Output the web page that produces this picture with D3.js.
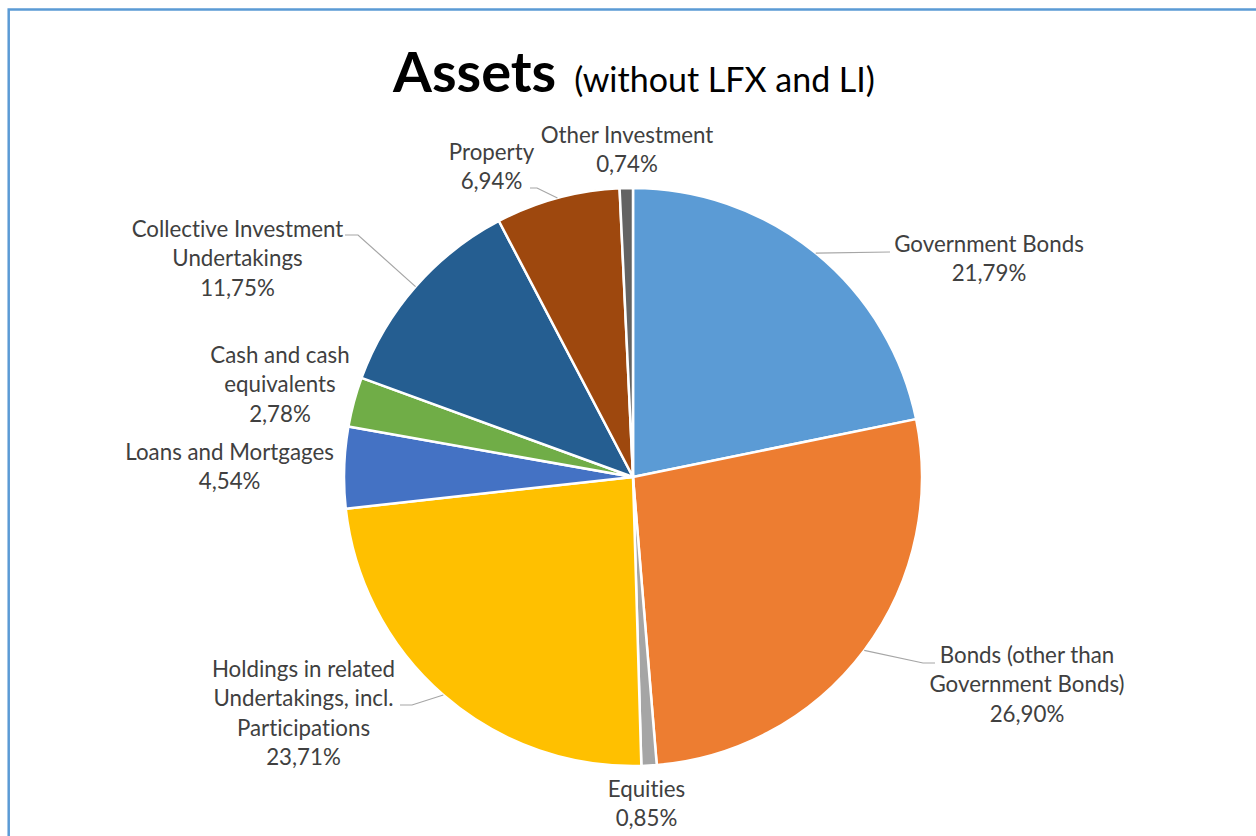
<!DOCTYPE html>
<html><head><meta charset="utf-8">
<script src="https://cdn.jsdelivr.net/npm/d3@7"></script>
<style>html,body{margin:0;padding:0;background:#fff;}svg{display:block;}text{font-variant-ligatures:none;}</style>
</head><body>
<svg id="chart" width="1256" height="836"></svg>
<script>
// ---- data ----
const categories = ["Government Bonds","Bonds (other than Government Bonds)","Equities","Holdings in related Undertakings, incl. Participations","Loans and Mortgages","Cash and cash equivalents","Collective Investment Undertakings","Property","Other Investment"];
const values = [21.79, 26.90, 0.85, 23.71, 4.54, 2.78, 11.75, 6.94, 0.74];
const valueLabels = ["21,79%","26,90%","0,85%","23,71%","4,54%","2,78%","11,75%","6,94%","0,74%"];
const labelLines = [
  ["Government Bonds"],
  ["Bonds (other than","Government Bonds)"],
  ["Equities"],
  ["Holdings in related","Undertakings, incl.","Participations"],
  ["Loans and Mortgages"],
  ["Cash and cash","equivalents"],
  ["Collective Investment","Undertakings"],
  ["Property"],
  ["Other Investment"]
];
const colors = ["#5B9BD5","#ED7D31","#A5A5A5","#FFC000","#4472C4","#70AD47","#255E91","#9E480E","#636363"];

// ---- layout ----
const cx = 633, cy = 477, R = 289;
const lineH = 29.3;
const labelPos = [ // [centerX, first baseline]
  [989, 252],[1027, 663],[646.5, 797],[303.5, 677],[229.6, 460],[280, 363],[237.5, 237],[491.5, 160],[627, 143]
];
const leaders = [ // [elbowX, elbowY, endX, endY] or null
  [890,252,890,252],[923,663,935,663],null,[412,705,400,705],null,null,[358,235,345,235],[537,188,530,188],null
];

const svg = d3.select("#chart");
svg.append("rect").attr("x",8.7).attr("y",9.5).attr("width",1400).attr("height",1000)
  .attr("fill","none").attr("stroke","#5B9BD5").attr("stroke-width",2.5);

const title = svg.append("text").attr("x",634).attr("y",92).attr("text-anchor","middle")
  .attr("font-family","Lato, 'Open Sans', sans-serif").attr("fill","#000");
title.append("tspan").attr("font-size",56).attr("font-weight","bold").text("Assets");
title.append("tspan").attr("font-size",34).attr("dx",18).text("(without LFX and LI)");

const pie = d3.pie().sort(null).value(d=>d);
const arcs = pie(values);
const arc = d3.arc().innerRadius(0).outerRadius(R);
const g = svg.append("g").attr("transform",`translate(${cx},${cy})`);
g.selectAll("path").data(arcs).join("path")
  .attr("d",arc).attr("fill",(d,i)=>colors[i]).attr("stroke","#fff").attr("stroke-width",2.5).attr("stroke-linejoin","round");

// leader lines
arcs.forEach((a,i)=>{
  const L = leaders[i]; if(!L) return;
  const m = (a.startAngle+a.endAngle)/2;
  const sx = cx + R*Math.sin(m), sy = cy - R*Math.cos(m);
  svg.append("polyline").attr("points",`${sx},${sy} ${L[0]},${L[1]} ${L[2]},${L[3]}`)
    .attr("fill","none").attr("stroke","#A6A6A6").attr("stroke-width",1.2);
});

// labels
arcs.forEach((a,i)=>{
  const lines = labelLines[i].concat([valueLabels[i]]);
  const t = svg.append("text").attr("text-anchor","middle")
    .attr("font-family","Lato, 'Open Sans', sans-serif").attr("font-size",22.3).attr("fill","#404040");
  lines.forEach((s,k)=>{
    t.append("tspan").attr("x",labelPos[i][0]).attr("y",labelPos[i][1]+k*lineH).text(s);
  });
});
</script>
</body></html>
